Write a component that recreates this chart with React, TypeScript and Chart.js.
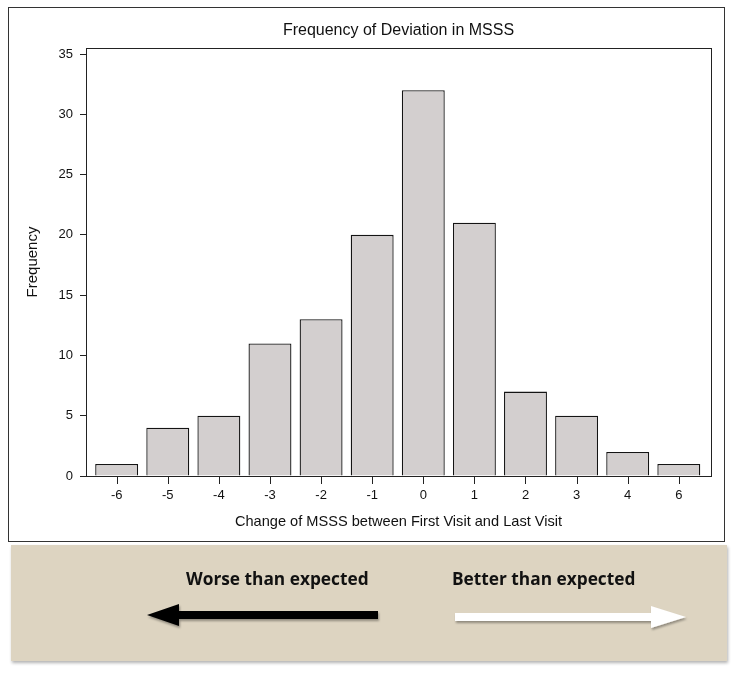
import React, { useEffect, useRef } from "react";
import { Chart, registerables } from "chart.js";

Chart.register(...registerables);

const categories = ["-6", "-5", "-4", "-3", "-2", "-1", "0", "1", "2", "3", "4", "6"];
const frequencies = [1, 4, 5, 11, 13, 20, 32, 21, 7, 5, 2, 1];
const yTicks = [0, 5, 10, 15, 20, 25, 30, 35];
const titleText = "Frequency of Deviation in MSSS";
const xTitleText = "Change of MSSS between First Visit and Last Visit";
const yTitleText = "Frequency";
const worseLabel = "Worse than expected";
const betterLabel = "Better than expected";

const FONT = "'Liberation Sans', Arial, sans-serif";

const framePlugin = {
  id: "frame",
  afterDraw(chart: any) {
    const { ctx, chartArea } = chart;
    const xScale = chart.scales.x;
    ctx.save();
    // outer box
    ctx.strokeStyle = "#333";
    ctx.lineWidth = 1;
    ctx.strokeRect(8.5, 7.5, 716, 534);
    // plot frame
    ctx.strokeStyle = "#222";
    ctx.strokeRect(
      Math.round(chartArea.left) + 0.5,
      Math.round(chartArea.top) + 0.5,
      Math.round(chartArea.right - chartArea.left),
      Math.round(chartArea.bottom - chartArea.top)
    );
    // x tick marks
    const yb = Math.round(chartArea.bottom);
    ctx.fillStyle = "#222";
    categories.forEach((_, i) => {
      const px = Math.round(xScale.getPixelForValue(i));
      ctx.fillRect(px, yb, 1, 8);
    });
    // titles
    ctx.fillStyle = "#111";
    ctx.textAlign = "center";
    ctx.textBaseline = "middle";
    ctx.font = `16px ${FONT}`;
    const cx = (chartArea.left + chartArea.right) / 2;
    ctx.fillText(titleText, cx, 31);
    ctx.font = `14.6px ${FONT}`;
    ctx.fillText(xTitleText, cx, 522);
    ctx.translate(33, (chartArea.top + chartArea.bottom) / 2);
    ctx.rotate(-Math.PI / 2);
    ctx.font = `15px ${FONT}`;
    ctx.fillText(yTitleText, 0, 0);
    ctx.restore();
  },
};

function Arrow({ color, dir }: { color: string; dir: "left" | "right" }) {
  const w = 240;
  const h = 28;
  const pts =
    dir === "left"
      ? `0,14 32,3 32,10 231,10 231,18 32,18 32,25`
      : `233,14 198,3 198,10 2,10 2,18 198,18 198,25`;
  return (
    <svg width={w} height={h} style={{ position: "absolute", overflow: "visible" }}>
      <defs>
        <filter id={`sh-${dir}`} x="-10%" y="-50%" width="120%" height="200%">
          <feDropShadow dx="1" dy="2" stdDeviation="1.2" floodColor="#000" floodOpacity="0.35" />
        </filter>
      </defs>
      <polygon points={pts} fill={color} filter={`url(#sh-${dir})`} />
    </svg>
  );
}

export default function App() {
  const canvasRef = useRef<HTMLCanvasElement | null>(null);

  useEffect(() => {
    if (!canvasRef.current) return;
    const data = frequencies.map((v, i) => ({ x: i, y: v }));
    const chart = new Chart(canvasRef.current, {
      type: "bar",
      data: {
        datasets: [
          {
            data,
            backgroundColor: "#d3cfcf",
            borderColor: "#141414",
            borderWidth: 1.3,
            barPercentage: 0.84,
            categoryPercentage: 1,
          } as any,
        ],
      },
      options: {
        animation: false,
        responsive: false,
        maintainAspectRatio: false,
        layout: { padding: { left: 0, right: 34, top: 48, bottom: 0 } },
        plugins: {
          legend: { display: false },
          tooltip: { enabled: false },
          title: { display: false },
        },
        scales: {
          x: {
            type: "linear",
            min: -0.6,
            max: categories.length - 1 + 0.63,
            offset: false,
            afterFit(scale: any) {
              scale.height = 69;
            },
            afterBuildTicks(scale: any) {
              scale.ticks = categories.map((_, i) => ({ value: i }));
            },
            ticks: {
              stepSize: 1,
              includeBounds: false,
              autoSkip: false,
              maxRotation: 0,
              padding: 5,
              color: "#111",
              font: { family: FONT, size: 13 },
              callback: (v: any) => categories[Math.round(Number(v))] ?? "",
            },
            grid: {
              offset: false,
              drawOnChartArea: false,
              drawTicks: true,
              tickLength: 7,
              color: "rgba(0,0,0,0)",
            },
            border: { display: true, color: "#222" },
          },
          y: {
            type: "linear",
            min: 0,
            max: 35.5,
            afterFit(scale: any) {
              scale.width = 86;
            },
            afterBuildTicks(scale: any) {
              scale.ticks = yTicks.map((v) => ({ value: v }));
            },
            ticks: {
              stepSize: 5,
              includeBounds: false,
              padding: 7,
              color: "#111",
              font: { family: FONT, size: 13 },
            },
            grid: {
              drawOnChartArea: false,
              drawTicks: true,
              tickLength: 6,
              color: "#222",
            },
            border: { display: true, color: "#222" },
          },
        },
      } as any,
      plugins: [framePlugin],
    });
    return () => chart.destroy();
  }, []);

  const textStyle: React.CSSProperties = {
    position: "absolute",
    fontFamily: "'Open Sans', 'Noto Sans', sans-serif",
    fontWeight: 700,
    fontSize: 17.3,
    color: "#111",
    whiteSpace: "nowrap",
    lineHeight: "20px",
  };

  return (
    <div style={{ position: "absolute", left: 0, top: 0, width: 745, height: 676, background: "#fff", overflow: "hidden" }}>
      <canvas ref={canvasRef} width={745} height={545} style={{ position: "absolute", left: 0, top: 0, width: 745, height: 545 }} />
      <div
        style={{
          position: "absolute",
          left: 11,
          top: 545,
          width: 716,
          height: 116,
          background: "#ddd4c1",
          boxShadow: "1px 2px 3px rgba(0,0,0,0.3)",
        }}
      >
        <div style={{ ...textStyle, left: 175, top: 24 }}>{worseLabel}</div>
        <div style={{ ...textStyle, left: 441, top: 24 }}>{betterLabel}</div>
        <div style={{ position: "absolute", left: 136, top: 56 }}>
          <Arrow color="#000" dir="left" />
        </div>
        <div style={{ position: "absolute", left: 442, top: 58 }}>
          <Arrow color="#fff" dir="right" />
        </div>
      </div>
    </div>
  );
}
